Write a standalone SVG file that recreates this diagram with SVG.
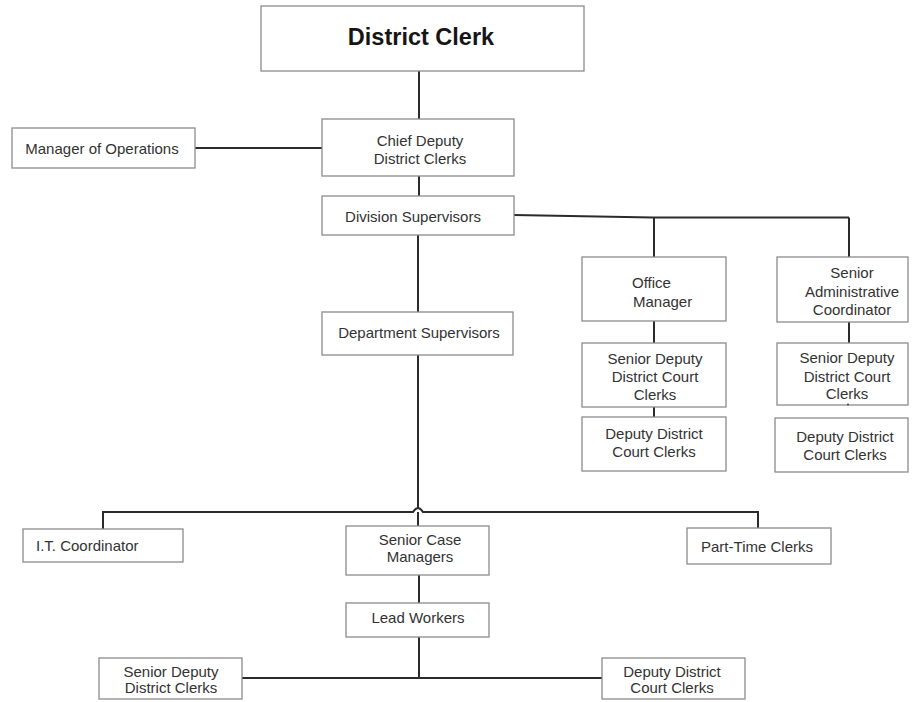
<svg xmlns="http://www.w3.org/2000/svg" width="912" height="702" viewBox="0 0 912 702">
  <style>
    .box { fill: #ffffff; stroke: #8c8c8c; stroke-width: 1.3; }
    .lbl { font-family: "Liberation Sans", Arial, sans-serif; font-size: 15px; fill: #333333; text-anchor: middle; }
    .left { text-anchor: start; }
    .title { font-family: "Liberation Sans", Arial, sans-serif; font-size: 23.5px; font-weight: bold; fill: #151515; text-anchor: middle; }
    .wire { fill: none; stroke: #2b2b2b; stroke-width: 2; }
  </style>
  <rect width="912" height="702" fill="#ffffff"/>

  <!-- connectors -->
  <g id="connectors">
    <path class="wire" d="M419 71 V120"/>
    <path class="wire" d="M195 148 H322"/>
    <path class="wire" d="M419 176 V196"/>
    <path class="wire" d="M514 215 L653 217.5 H849"/>
    <path class="wire" d="M654 217.5 V257"/>
    <path class="wire" d="M849 217.5 V257"/>
    <path class="wire" d="M654 321 V343"/>
    <path class="wire" d="M654 407 V417"/>
    <path class="wire" d="M849 322 V343"/>
    <path class="wire" d="M418 235 V312"/>
    <path class="wire" d="M418 355 V508"/>
    <path class="wire" d="M103 529 V512 H413 Q418 504 423 512 H758 V528"/>
    <path class="wire" d="M418 512 V526"/>
    <path class="wire" d="M419 575 V603"/>
    <path class="wire" d="M419 637 V678"/>
    <path class="wire" d="M242 678 H602"/>
  </g>

  <g id="district-clerk">
    <rect class="box" x="261" y="6" width="323" height="65"/>
    <text class="title" x="421" y="45">District Clerk</text>
  </g>

  <g id="manager-of-operations">
    <rect class="box" x="12" y="128" width="183" height="40"/>
    <text class="lbl" x="102" y="154">Manager of Operations</text>
  </g>

  <g id="chief-deputy">
    <rect class="box" x="322" y="119" width="192" height="57"/>
    <text class="lbl" x="420" y="146">Chief Deputy</text>
    <text class="lbl" x="420" y="164">District Clerks</text>
  </g>

  <g id="division-supervisors">
    <rect class="box" x="322" y="196" width="192" height="39"/>
    <text class="lbl" x="413" y="222">Division Supervisors</text>
  </g>

  <g id="department-supervisors">
    <rect class="box" x="322" y="312" width="191" height="43"/>
    <text class="lbl" x="419" y="338">Department Supervisors</text>
  </g>

  <g id="office-manager">
    <rect class="box" x="582" y="257" width="144" height="64"/>
    <text class="lbl left" x="632" y="288">Office</text>
    <text class="lbl left" x="633" y="307">Manager</text>
  </g>

  <g id="senior-deputy-court-clerks-a">
    <rect class="box" x="582" y="343" width="144" height="64"/>
    <text class="lbl" x="655" y="364">Senior Deputy</text>
    <text class="lbl" x="655" y="382">District Court</text>
    <text class="lbl" x="655" y="400">Clerks</text>
  </g>

  <g id="deputy-court-clerks-a">
    <rect class="box" x="582" y="417" width="144" height="54"/>
    <text class="lbl" x="654" y="439">Deputy District</text>
    <text class="lbl" x="654" y="457">Court Clerks</text>
  </g>

  <g id="senior-admin-coordinator">
    <rect class="box" x="777" y="257" width="131" height="65"/>
    <text class="lbl" x="852" y="278">Senior</text>
    <text class="lbl" x="852" y="297">Administrative</text>
    <text class="lbl" x="852" y="315">Coordinator</text>
  </g>

  <g id="senior-deputy-court-clerks-b">
    <rect class="box" x="777" y="343" width="131" height="62"/>
    <text class="lbl" x="847" y="363">Senior Deputy</text>
    <text class="lbl" x="847" y="382">District Court</text>
    <text class="lbl" x="847" y="399">Clerks</text>
    <circle cx="848" cy="404.5" r="1" fill="#444444"/>
  </g>

  <g id="deputy-court-clerks-b">
    <rect class="box" x="775" y="418" width="133" height="54"/>
    <text class="lbl" x="845" y="442">Deputy District</text>
    <text class="lbl" x="845" y="460">Court Clerks</text>
  </g>

  <g id="it-coordinator">
    <rect class="box" x="23" y="529" width="160" height="33"/>
    <text class="lbl left" x="36" y="551">I.T. Coordinator</text>
  </g>

  <g id="senior-case-managers">
    <rect class="box" x="346" y="526" width="143" height="49"/>
    <text class="lbl" x="420" y="545">Senior Case</text>
    <text class="lbl" x="420" y="562">Managers</text>
  </g>

  <g id="part-time-clerks">
    <rect class="box" x="687" y="528" width="144" height="36"/>
    <text class="lbl" x="757" y="552">Part-Time Clerks</text>
  </g>

  <g id="lead-workers">
    <rect class="box" x="346" y="603" width="143" height="34"/>
    <text class="lbl" x="418" y="623">Lead Workers</text>
  </g>

  <g id="senior-deputy-district-clerks">
    <rect class="box" x="99" y="658" width="143" height="41"/>
    <text class="lbl" x="171" y="677">Senior Deputy</text>
    <text class="lbl" x="171" y="693">District Clerks</text>
  </g>

  <g id="deputy-district-court-clerks">
    <rect class="box" x="602" y="658" width="143" height="41"/>
    <text class="lbl" x="672" y="677">Deputy District</text>
    <text class="lbl" x="672" y="693">Court Clerks</text>
  </g>
</svg>
